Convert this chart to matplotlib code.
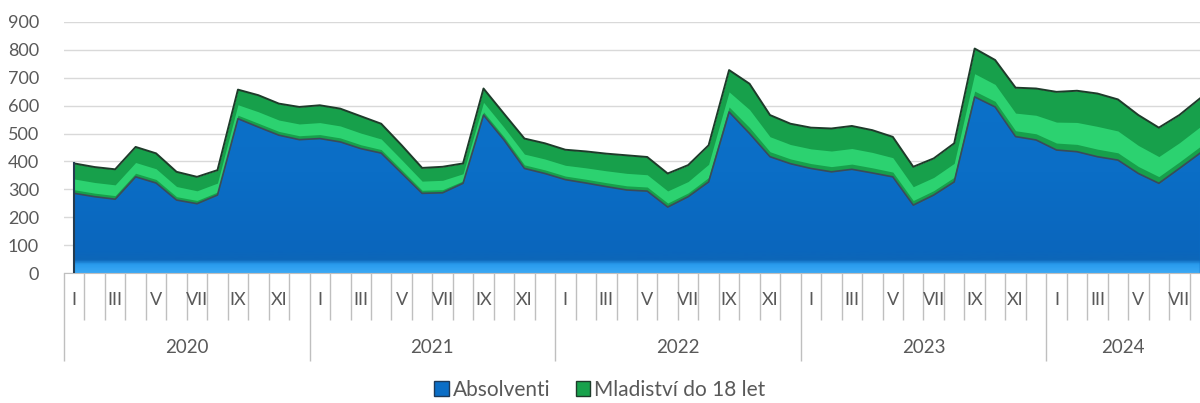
import numpy as np
import matplotlib
matplotlib.use('Agg')
import matplotlib.pyplot as plt
import matplotlib.transforms as mtransforms
from matplotlib.patches import Patch
from matplotlib.colors import LinearSegmentedColormap

# Měsíční data I/2020 - VIII/2024
roky = ['2020', '2021', '2022', '2023', '2024']
mesice = ['I', 'II', 'III', 'IV', 'V', 'VI', 'VII', 'VIII', 'IX', 'X', 'XI', 'XII']

absolventi = [286, 274, 265, 345, 323, 262, 249, 280, 553, 523, 494, 478,
              482, 470, 446, 430, 358, 286, 288, 322, 566, 477, 375, 357,
              335, 323, 310, 298, 294, 237, 274, 327, 577, 500, 417, 392,
              375, 363, 372, 359, 345, 244, 280, 327, 631, 595, 489, 477,
              441, 435, 417, 405, 357, 322, 375, 429]
celkem = [393, 380, 372, 452, 429, 363, 345, 369, 657, 637, 607, 595,
          601, 589, 562, 535, 458, 377, 381, 393, 661, 571, 482, 465,
          442, 436, 428, 422, 416, 357, 387, 458, 727, 678, 566, 535,
          521, 518, 527, 512, 488, 381, 411, 465, 804, 763, 664, 661,
          649, 653, 643, 622, 566, 521, 566, 625]
mladistvi = [c - a for c, a in zip(celkem, absolventi)]

n = len(absolventi)
x = np.arange(n)
a = np.array(absolventi)
m = np.array(mladistvi)
top = a + m

plt.rcParams['font.family'] = ['Lato', 'DejaVu Sans']
seda = '#595959'

fig = plt.figure(figsize=(12, 4.03), dpi=100)
ax = fig.add_axes([64 / 1200, 129.7 / 403, 1146 / 1200, 251.6 / 403])

# mřížka
ax.set_ylim(0, 900)
ax.set_xlim(-0.5, n - 0.5)
ax.set_yticks(range(0, 901, 100))
ax.grid(axis='y', color='#d9d9d9', linewidth=1)
ax.set_axisbelow(True)

# Absolventi (modrá) s přechodem ve spodní části
modra = ax.fill_between(x, 0, a, color='#0b6fc8', linewidth=0, zorder=2)
cmap = LinearSegmentedColormap.from_list('modra', [
    (0.0, '#3aa8f4'), (0.03, '#2a9cee'), (0.05, '#0d66b8'),
    (0.09, '#0a66bd'), (0.4, '#0b6ec6'), (1.0, '#0c74cc')])
grad = np.linspace(0, 1, 400).reshape(-1, 1)
img = ax.imshow(grad, cmap=cmap, origin='lower', aspect='auto',
                extent=(-0.5, n - 0.5, 0, 900), zorder=2.1)
img.set_clip_path(modra.get_paths()[0], transform=ax.transData)
ax.plot(x, a, color='#3a4a5a', linewidth=1.2, zorder=4)

# Mladiství (zelená)
ax.fill_between(x, a, top, color='#17a04b', linewidth=0, zorder=3)
ax.fill_between(x, a + 0.12 * m, a + 0.48 * m, color='#2cd270', linewidth=0, zorder=3.1)
ax.plot(x, top, color='#1e3b2a', linewidth=1.4, zorder=4)
ax.plot([0, 0], [0, top[0]], color='#243b4f', linewidth=1.5, zorder=4)

ax.set_xlim(-0.5, n - 0.5)
ax.set_ylim(0, 900)

# osa x: hranice měsíců a roků
hranice = np.arange(-0.5, n, 1.0)
rok_hranice = [h for h in hranice if (h + 0.5) % 12 == 0]
mesic_hranice = [h for h in hranice if (h + 0.5) % 12 != 0]
ax.set_xticks(rok_hranice)
ax.set_xticks(mesic_hranice, minor=True)
ax.tick_params(axis='x', which='major', length=63, width=1, color='#bfbfbf', labelbottom=False)
ax.tick_params(axis='x', which='minor', length=34, width=1, color='#bfbfbf')
ax.tick_params(axis='y', length=0, labelsize=13, labelcolor=seda, pad=18)

for s in ['top', 'right', 'left']:
    ax.spines[s].set_visible(False)
ax.spines['bottom'].set_color('#bfbfbf')

trans = mtransforms.blended_transform_factory(ax.transData, ax.transAxes)
for i in range(n):
    if i % 2 == 0:
        ax.text(i, -27 / 251.6, mesice[i % 12], transform=trans, ha='center', va='center',
                fontsize=13, color=seda, clip_on=False)
for k, r in enumerate(roky):
    start = k * 12 - 0.5
    end = min(start + 12, n - 1)
    ax.text((start + end) / 2, -74 / 251.6, r,
            transform=trans, ha='center', va='center', fontsize=13.5, color=seda, clip_on=False)

handles = [Patch(facecolor='#0b6ec6', edgecolor='#1d3a5a', label='Absolventi'),
           Patch(facecolor='#18a24c', edgecolor='#1e3b2a', label='Mladiství do 18 let')]
fig.legend(handles=handles, loc='center', bbox_to_anchor=(0.5, 13 / 403), ncol=2, frameon=False,
           fontsize=15, labelcolor=seda, handlelength=0.7, handleheight=0.7,
           handletextpad=0.2, columnspacing=1.2)

fig.savefig('out.png', dpi=100)
